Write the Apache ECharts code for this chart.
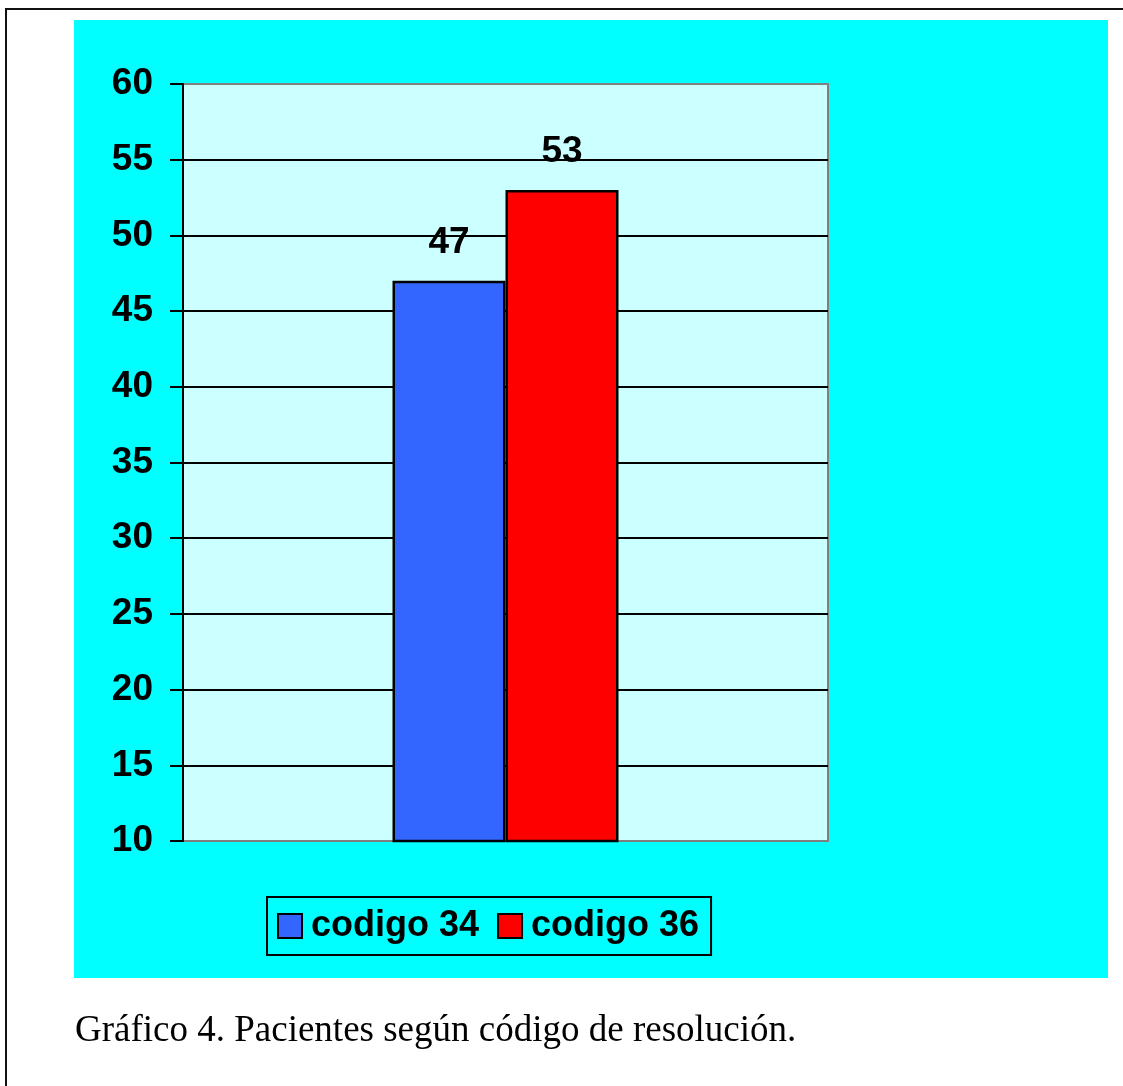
<!DOCTYPE html>
<html>
<head>
<meta charset="utf-8">
<script src="https://cdn.jsdelivr.net/npm/echarts@6/dist/echarts.min.js"></script>
<style>
  html, body { margin: 0; padding: 0; background: #fff; }
  #chart { width: 1123px; height: 1086px; }
</style>
</head>
<body>
<div id="chart"></div>
<script>
const categories = ['']
const seriesNames = ['codigo 34', 'codigo 36']
const codigo34 = [47]
const codigo36 = [53]
const colors = ['#3366FF', '#FF0000']

// split lines: top and bottom edges are grey like the plot frame
const splitColors = ['#808080', '#000', '#000', '#000', '#000', '#000', '#000', '#000', '#000', '#000', '#808080']

const labelStyle = {
  show: true,
  position: 'top',
  distance: 20,
  color: '#000',
  fontFamily: 'Liberation Sans, Arial, sans-serif',
  fontWeight: 'bold',
  fontSize: 37
}

const option = {
  backgroundColor: '#fff',
  animation: false,
  color: colors,
  graphic: [
    {
      type: 'rect',
      z: -10,
      shape: { x: 74, y: 20, width: 1034, height: 958 },
      style: { fill: '#00FFFF' }
    },
    {
      type: 'rect',
      z: -11,
      shape: { x: 6, y: 9, width: 1140, height: 1100 },
      style: { fill: '#fff', stroke: '#111', lineWidth: 2 }
    },
    {
      type: 'text',
      left: 75,
      top: 1013,
      style: {
        text: 'Gráfico 4. Pacientes según código de resolución.',
        font: '37px "Liberation Serif", "Times New Roman", serif',
        fill: '#000'
      }
    }
  ],
  legend: {
    data: seriesNames,
    left: 267,
    top: 897,
    orient: 'horizontal',
    backgroundColor: '#00FFFF',
    borderColor: '#000',
    borderWidth: 2,
    borderRadius: 0,
    padding: [11, 12, 11, 10],
    itemGap: 18,
    itemWidth: 24,
    itemHeight: 24,
    icon: 'rect',
    textStyle: {
      color: '#000',
      fontFamily: 'Liberation Sans, Arial, sans-serif',
      fontWeight: 'bold',
      fontSize: 36,
      padding: [0, 0, 0, 4]
    }
  },
  grid: {
    left: 183,
    right: 295,
    top: 84,
    bottom: 245,
    show: true,
    backgroundColor: '#CCFFFF',
    borderColor: '#808080',
    borderWidth: 2,
    containLabel: false
  },
  xAxis: {
    type: 'category',
    data: categories,
    axisLine: { show: false },
    axisTick: { show: false },
    axisLabel: { show: false },
    splitLine: { show: false }
  },
  yAxis: {
    type: 'value',
    min: 10,
    max: 60,
    interval: 5,
    axisLine: { show: true, lineStyle: { color: '#000', width: 2 } },
    axisTick: { show: true, inside: false, length: 13, lineStyle: { color: '#000', width: 2 } },
    axisLabel: {
      color: '#000',
      margin: 30,
      fontFamily: 'Liberation Sans, Arial, sans-serif',
      fontWeight: 'bold',
      fontSize: 37
    },
    splitLine: { show: true, lineStyle: { color: splitColors, width: 2 } }
  },
  series: [
    {
      name: seriesNames[0],
      type: 'bar',
      data: codigo34,
      barWidth: 113,
      barGap: '0%',
      itemStyle: { color: colors[0], borderColor: '#000', borderWidth: 2.5 },
      label: labelStyle
    },
    {
      name: seriesNames[1],
      type: 'bar',
      data: codigo36,
      barWidth: 113,
      barGap: '0%',
      itemStyle: { color: colors[1], borderColor: '#000', borderWidth: 2.5 },
      label: labelStyle
    }
  ]
}

const chart = echarts.init(document.getElementById('chart'), null, { renderer: 'canvas' })
chart.setOption(option)
</script>
</body>
</html>
